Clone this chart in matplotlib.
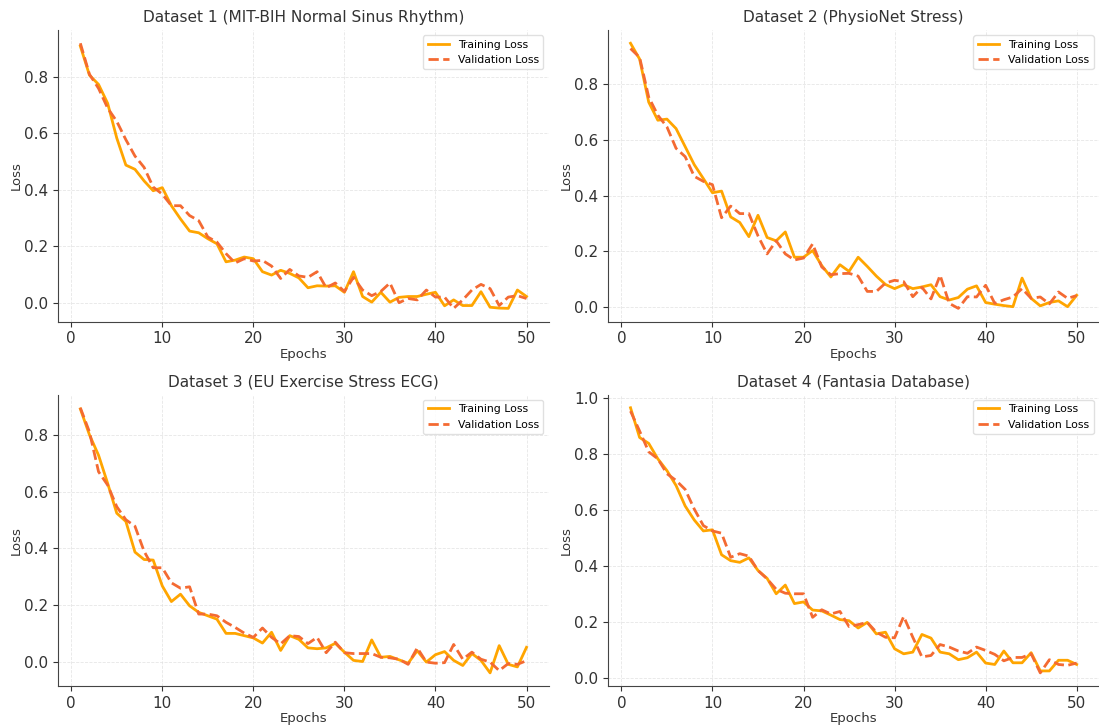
import numpy as np
import matplotlib
matplotlib.use('Agg')
from matplotlib import pyplot as plt

epochs = np.arange(1, 51)

titles = ['Dataset 1 (MIT-BIH Normal Sinus Rhythm)', 'Dataset 2 (PhysioNet Stress)',
          'Dataset 3 (EU Exercise Stress ECG)', 'Dataset 4 (Fantasia Database)']

train1 = [0.91, 0.807, 0.774, 0.707, 0.584, 0.488, 0.473, 0.432, 0.397, 0.408,
          0.344, 0.297, 0.254, 0.248, 0.227, 0.209, 0.145, 0.151, 0.162, 0.156,
          0.110, 0.098, 0.115, 0.104, 0.088, 0.053, 0.060, 0.059, 0.060, 0.037,
          0.110, 0.022, 0.002, 0.037, 0.002, 0.019, 0.022, 0.022, 0.030, 0.037,
          -0.011, 0.010, -0.010, -0.010, 0.039, -0.016, -0.019, -0.020, 0.045, 0.022]
val1 = [0.92, 0.81, 0.76, 0.69, 0.643, 0.578, 0.52, 0.48, 0.41, 0.385,
        0.344, 0.344, 0.309, 0.291, 0.233, 0.215, 0.174, 0.141, 0.156, 0.148,
        0.150, 0.130, 0.086, 0.118, 0.095, 0.090, 0.110, 0.053, 0.070, 0.040,
        0.090, 0.045, 0.025, 0.040, 0.070, 0.000, 0.015, 0.010, 0.045, 0.020,
        0.020, -0.020, 0.010, 0.045, 0.065, 0.050, -0.010, 0.020, 0.025, 0.015]

train2 = [0.948, 0.891, 0.736, 0.671, 0.675, 0.641, 0.576, 0.511, 0.461, 0.410,
          0.416, 0.323, 0.303, 0.252, 0.329, 0.249, 0.237, 0.269, 0.178, 0.178,
          0.202, 0.148, 0.107, 0.151, 0.127, 0.178, 0.145, 0.110, 0.080, 0.065,
          0.079, 0.065, 0.071, 0.079, 0.036, 0.024, 0.033, 0.063, 0.075, 0.015,
          0.009, 0.004, 0.000, 0.103, 0.030, 0.003, 0.015, 0.021, 0.000, 0.041]
val2 = [0.929, 0.897, 0.754, 0.689, 0.647, 0.570, 0.540, 0.469, 0.451, 0.439,
        0.320, 0.362, 0.335, 0.335, 0.255, 0.190, 0.237, 0.190, 0.168, 0.175,
        0.226, 0.143, 0.115, 0.119, 0.120, 0.110, 0.055, 0.055, 0.085, 0.095,
        0.090, 0.036, 0.070, 0.028, 0.113, 0.012, -0.006, 0.036, 0.035, 0.077,
        0.012, 0.025, 0.035, 0.065, 0.030, 0.035, 0.010, 0.053, 0.030, 0.040]

train3 = [0.891, 0.800, 0.728, 0.629, 0.524, 0.495, 0.387, 0.361, 0.359, 0.268,
          0.213, 0.239, 0.198, 0.175, 0.163, 0.151, 0.101, 0.101, 0.093, 0.085,
          0.067, 0.105, 0.041, 0.093, 0.080, 0.050, 0.047, 0.050, 0.066, 0.035,
          0.006, 0.002, 0.078, 0.017, 0.020, 0.008, -0.004, 0.040, 0.000, 0.026,
          0.037, 0.006, -0.012, 0.030, 0.006, -0.038, 0.058, -0.008, -0.017, 0.052]
val3 = [0.895, 0.810, 0.670, 0.623, 0.547, 0.501, 0.478, 0.390, 0.332, 0.332,
        0.279, 0.260, 0.265, 0.169, 0.169, 0.163, 0.140, 0.122, 0.102, 0.087,
        0.120, 0.087, 0.064, 0.093, 0.090, 0.065, 0.087, 0.033, 0.070, 0.033,
        0.030, 0.030, 0.030, 0.017, 0.015, 0.010, -0.008, 0.050, 0.000, -0.004,
        -0.002, 0.062, 0.010, 0.035, 0.010, 0.000, -0.030, -0.005, -0.008, 0.005]

train4 = [0.965, 0.859, 0.838, 0.783, 0.741, 0.688, 0.615, 0.565, 0.526, 0.530,
          0.441, 0.420, 0.414, 0.430, 0.385, 0.357, 0.302, 0.333, 0.267, 0.273,
          0.244, 0.241, 0.226, 0.210, 0.206, 0.180, 0.200, 0.159, 0.165, 0.106,
          0.088, 0.094, 0.157, 0.144, 0.094, 0.088, 0.067, 0.074, 0.094, 0.055,
          0.050, 0.098, 0.056, 0.056, 0.092, 0.027, 0.027, 0.065, 0.065, 0.050]
val4 = [0.953, 0.882, 0.808, 0.783, 0.730, 0.706, 0.674, 0.604, 0.545, 0.526,
        0.518, 0.432, 0.445, 0.436, 0.385, 0.355, 0.318, 0.304, 0.302, 0.302,
        0.218, 0.245, 0.230, 0.239, 0.185, 0.192, 0.200, 0.165, 0.147, 0.145,
        0.221, 0.147, 0.077, 0.082, 0.121, 0.112, 0.098, 0.090, 0.112, 0.100,
        0.086, 0.063, 0.075, 0.075, 0.088, 0.020, 0.067, 0.050, 0.047, 0.055]

trains = [train1, train2, train3, train4]
vals = [val1, val2, val3, val4]

fig, axes = plt.subplots(2, 2, figsize=(10.99, 7.28), dpi=100)

for ax, title, tr, va in zip(axes.flat, titles, trains, vals):
    ax.plot(epochs, tr, color='#FFA500', lw=2, label='Training Loss')
    ax.plot(epochs, va, color='#F46A32', lw=2, ls='--', label='Validation Loss')
    ax.set_title(title, fontsize=11.1, color='#333333')
    ax.set_xlabel('Epochs', fontsize=9.5, color='#333333', labelpad=1)
    ax.set_ylabel('Loss', fontsize=9.5, color='#333333', labelpad=1)
    ax.grid(True, ls='--', lw=0.6, color='#e0e0e0', alpha=0.8)
    ax.spines['top'].set_visible(False)
    ax.spines['right'].set_visible(False)
    ax.spines['left'].set_color('#444444')
    ax.spines['bottom'].set_color('#444444')
    ax.tick_params(labelsize=11, colors='#333333')
    ax.set_xticks([0, 10, 20, 30, 40, 50])
    leg = ax.legend(fontsize=7.8, loc='upper right', framealpha=0.9)
    leg.get_frame().set_edgecolor('#dddddd')

plt.subplots_adjust(left=0.0528, right=1.0, top=0.9588, bottom=0.0575,
                    wspace=0.121, hspace=0.25)
fig.savefig('out.png')
